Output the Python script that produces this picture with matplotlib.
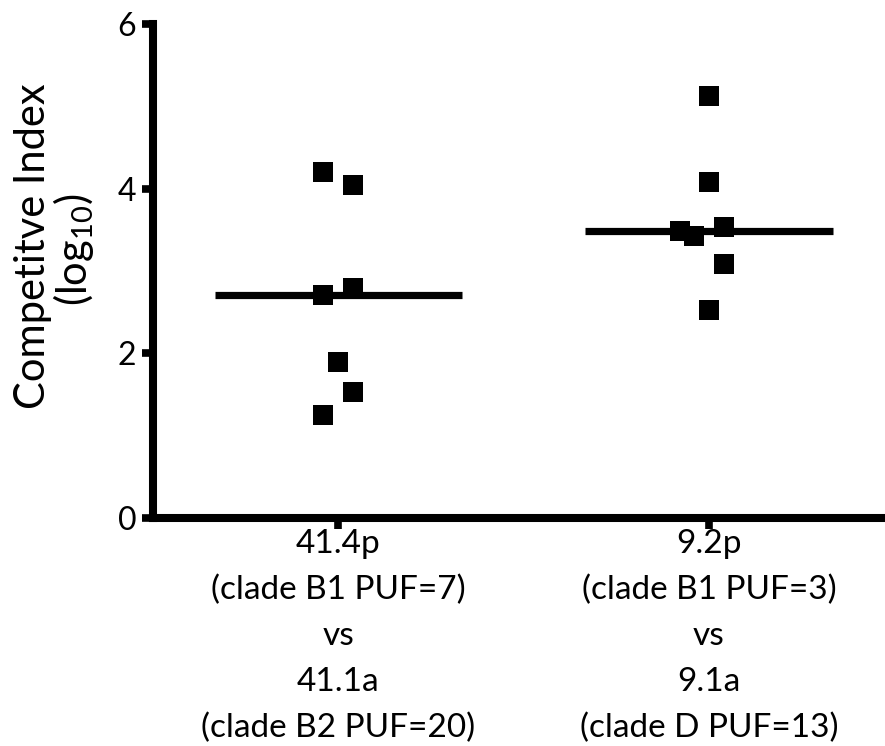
import matplotlib
matplotlib.use("Agg")
import matplotlib.pyplot as plt
import numpy as np

plt.rcParams['font.family'] = ['Lato', 'DejaVu Sans']
plt.rcParams['mathtext.fontset'] = 'custom'
plt.rcParams['mathtext.rm'] = 'Lato'
plt.rcParams['mathtext.it'] = 'Lato'

# Competitive index (log10) for each strain pairing
group_labels = [
    "41.4p\n(clade B1 PUF=7)\nvs\n41.1a\n(clade B2 PUF=20)",
    "9.2p\n(clade B1 PUF=3)\nvs\n9.1a\n(clade D PUF=13)",
]
group1_values = [4.20, 4.04, 2.71, 2.79, 1.90, 1.53, 1.25]
group1_offsets = [-0.04, 0.04, -0.04, 0.04, 0.0, 0.04, -0.04]
group2_values = [5.13, 4.08, 3.49, 3.42, 3.54, 3.08, 2.53]
group2_offsets = [0.0, 0.0, -0.078, -0.039, 0.04, 0.04, 0.0]
y_ticks = [0, 2, 4, 6]

W, H = 885, 746
fig = plt.figure(figsize=(W / 100, H / 100), dpi=100)
ax = fig.add_axes([153 / W, 1 - 518 / H, 1 - 153 / W, (518 - 24) / H])

groups = [(group1_values, group1_offsets), (group2_values, group2_offsets)]
for i, (vals, offs) in enumerate(groups):
    xpos = i + 1
    xs = [xpos + o for o in offs]
    ax.plot(xs, vals, linestyle='none', marker='s', markersize=14.6,
            markerfacecolor='black', markeredgewidth=0, color='black', zorder=3)
    med = np.median(vals)
    ax.plot([xpos - 0.334, xpos + 0.334], [med, med], color='black',
            linewidth=5.2, solid_capstyle='butt', zorder=2)

ax.set_xlim(0.5, 2.475)
ax.set_ylim(0, 6)
ax.set_yticks(y_ticks)
ax.set_yticklabels([str(t) for t in y_ticks])
ax.set_xticks([1, 2])
ax.set_xticklabels(group_labels, linespacing=1.65)

for side in ['top', 'right']:
    ax.spines[side].set_visible(False)
for side in ['left', 'bottom']:
    ax.spines[side].set_linewidth(5.8)
    ax.spines[side].set_capstyle('projecting')

ax.tick_params(axis='both', which='major', direction='out', length=8,
               width=5.5, labelsize=24, color='black')
ax.tick_params(axis='y', labelsize=23, pad=4)
ax.tick_params(axis='x', pad=0)

# two-line y-axis title, set tightly
fig.text(33 / W, 1 - 246 / H, "Competitve Index",
         rotation=90, ha='center', va='center', fontsize=30)
fig.text(74 / W, 1 - 250 / H, "(log$_{10}$)",
         rotation=90, ha='center', va='center', fontsize=30)

fig.savefig("out.png", dpi=100)
